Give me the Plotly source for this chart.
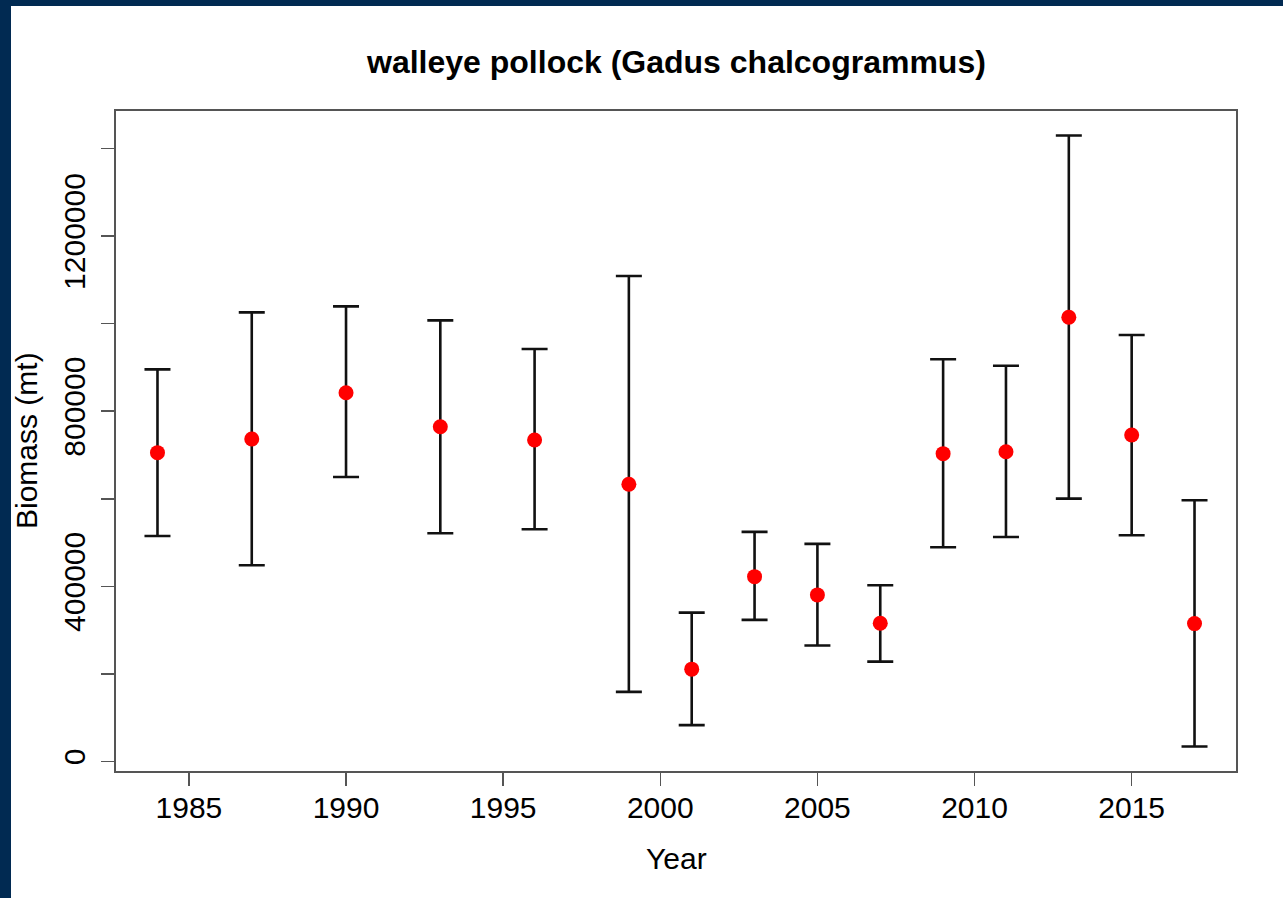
import plotly.graph_objects as go

years = [1984, 1987, 1990, 1993, 1996, 1999, 2001, 2003, 2005, 2007, 2009, 2011, 2013, 2015, 2017]
biomass = [705300, 736500, 842200, 764600, 734200, 633100, 210900, 422200, 380500, 315900,
           703000, 707500, 1014300, 745600, 315000]
upper = [895500, 1025600, 1039300, 1007400, 941900, 1108500, 340100, 524300, 496900, 402600,
         918400, 903800, 1429600, 973900, 596600]
lower = [515100, 448200, 649800, 521200, 530300, 159100, 83100, 323400, 264800, 228200,
         489300, 512800, 600300, 516700, 34200]

x_ticks = [1985, 1990, 1995, 2000, 2005, 2010, 2015]
y_ticks = [0, 200000, 400000, 600000, 800000, 1000000, 1200000, 1400000]
y_labels = ["0", "", "400000", "", "800000", "", "1200000", ""]

W, H = 1283, 898
ML, MR, MT, MB = 116, 47, 111, 127
PW, PH = W - ML - MR, H - MT - MB
FONT = "Liberation Sans, Arial, sans-serif"
AXIS_COL = "#555555"
NAVY = "#012a52"

# R-style 4% axis extension
xspan = max(years) - min(years)
xr = [min(years) - 0.04 * xspan, max(years) + 0.04 * xspan]
ymin, ymax = min(lower), max(upper)
yspan = ymax - ymin
yr = [ymin - 0.04 * yspan, ymax + 0.04 * yspan]

fig = go.Figure()
fig.add_trace(go.Scatter(
    x=years, y=biomass, mode="markers",
    marker=dict(color="#ff0000", size=15, line=dict(width=0)),
    error_y=dict(type="data", symmetric=False,
                 array=[u - b for u, b in zip(upper, biomass)],
                 arrayminus=[b - l for b, l in zip(biomass, lower)],
                 color="#111111", thickness=2.6, width=13),
    hoverinfo="skip", showlegend=False,
))

def px_to_paper_x(px):
    return (px - ML) / PW

def px_to_paper_y(py):
    return (H - MB - py) / PH

shapes = [
    dict(type="rect", xref="paper", yref="paper", layer="above",
         x0=px_to_paper_x(0), x1=px_to_paper_x(11), y0=px_to_paper_y(H), y1=px_to_paper_y(0),
         fillcolor=NAVY, line=dict(width=0)),
    dict(type="rect", xref="paper", yref="paper", layer="above",
         x0=px_to_paper_x(0), x1=px_to_paper_x(W), y0=px_to_paper_y(6), y1=px_to_paper_y(0),
         fillcolor=NAVY, line=dict(width=0)),
]

annotations = [
    dict(text="<b>walleye pollock (Gadus chalcogrammus)</b>", xref="paper", yref="paper",
         x=px_to_paper_x(676), y=px_to_paper_y(62), xanchor="center", yanchor="middle",
         showarrow=False, font=dict(family=FONT, size=32, color="black")),
    dict(text="Year", xref="paper", yref="paper",
         x=px_to_paper_x(676), y=px_to_paper_y(858), xanchor="center", yanchor="middle",
         showarrow=False, font=dict(family=FONT, size=30, color="black")),
    dict(text="Biomass (mt)", xref="paper", yref="paper", textangle=-90,
         x=px_to_paper_x(26), y=px_to_paper_y(441), xanchor="center", yanchor="middle",
         showarrow=False, font=dict(family=FONT, size=30, color="black")),
]

fig.update_layout(
    width=W, height=H,
    margin=dict(l=ML, r=MR, t=MT, b=MB, pad=0),
    paper_bgcolor="white", plot_bgcolor="white",
    shapes=shapes, annotations=annotations,
    font=dict(family=FONT, size=30, color="black"),
)
fig.update_xaxes(
    range=xr, tickvals=x_ticks, ticktext=[str(t) for t in x_ticks],
    showgrid=False, zeroline=False, showline=True, mirror=True,
    linecolor=AXIS_COL, linewidth=2, ticks="outside", ticklen=13, tickwidth=1.5,
    tickcolor=AXIS_COL, tickfont=dict(family=FONT, size=30, color="black"),
    ticklabelstandoff=-4,
)
fig.update_yaxes(
    range=yr, tickvals=y_ticks, ticktext=y_labels, tickangle=-90,
    showgrid=False, zeroline=False, showline=True, mirror=True,
    linecolor=AXIS_COL, linewidth=2, ticks="outside", ticklen=13, tickwidth=1.5,
    tickcolor=AXIS_COL, tickfont=dict(family=FONT, size=30, color="black"),
    ticklabelstandoff=4,
)

fig.write_html("out.html", config={"displayModeBar": False, "staticPlot": True})

# remove the browser's default 8px body margin so the figure sits at the page origin
with open("out.html", "r", encoding="utf-8") as f:
    html = f.read()
html = html.replace("<head>", "<head><style>html,body{margin:0;padding:0;overflow:hidden;}</style>", 1)
with open("out.html", "w", encoding="utf-8") as f:
    f.write(html)
